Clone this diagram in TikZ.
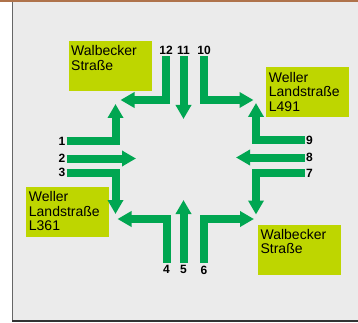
\documentclass[tikz,border=0pt]{standalone}
\usepackage{fontspec}
\setmainfont{Liberation Sans}
\usetikzlibrary{arrows.meta}
\usetikzlibrary{positioning}

\definecolor{lanegreen}{RGB}{0,166,81}
\definecolor{signlime}{RGB}{190,214,0}
\definecolor{panelgray}{RGB}{235,235,235}
\definecolor{panelrim}{RGB}{175,115,75}

\begin{document}
\begin{tikzpicture}[x=1pt,y=-1pt,
    lane/.style={draw=lanegreen,line width=8pt,line join=miter,-{Triangle[width=15pt,length=14pt]}},
    vh/.style={to path={|- (\tikztotarget)}},
    hv/.style={to path={-| (\tikztotarget)}},
    num/.style={font=\fontsize{12}{12}\selectfont\bfseries,inner sep=0pt},
    sign/.style={fill=signlime,minimum width=83pt,minimum height=50pt,inner sep=0pt,anchor=north west},
    signtext/.style={font=\fontsize{14}{14.6}\selectfont,align=left,inner xsep=2.7pt,inner ysep=4.5pt,anchor=north west}]

  \useasboundingbox (0,0) rectangle (358,323);
  \fill [panelgray] (12,1) rectangle (358,321);
  \draw [black!60,line width=1.5pt] (12.5,1) -- (12.5,321.5);
  \draw [black!80,line width=1.5pt] (12,321) -- (358,321);
  \draw [panelrim,line width=2pt] (0,1) -- (358,1);

  \node [sign] (sign_nw) at (68.3,40.7) {};
  \node [signtext] (text_nw) at (sign_nw.north west) {Walbecker\\Straße};
  \node [sign] (sign_ne) at (266,67.3) {};
  \node [signtext] (text_ne) at (sign_ne.north west) {Weller\\Landstraße\\L491};
  \node [sign] (sign_sw) at (26,186.7) {};
  \node [signtext] (text_sw) at (sign_sw.north west) {Weller\\Landstraße\\L361};
  \node [sign] (sign_se) at (257.7,224.5) {};
  \node [signtext] (text_se) at (sign_se.north west) {Walbecker\\Straße};

  \coordinate (in_1)  at (66.5,141);    \coordinate (out_1)  at (115.5,104);
  \coordinate (in_2)  at (66.5,158.5);  \coordinate (out_2)  at (136,158.5);
  \coordinate (in_3)  at (66.5,172.5);  \coordinate (out_3)  at (115.5,214);
  \coordinate (in_4)  at (166.5,262.5); \coordinate (out_4)  at (117.5,219);
  \coordinate (in_5)  at (183.5,262.5); \coordinate (out_5)  at (183.5,200);
  \coordinate (in_6)  at (204,262.5);   \coordinate (out_6)  at (254,219);
  \coordinate (in_7)  at (305,173);     \coordinate (out_7)  at (256,214.5);
  \coordinate (in_8)  at (305,157.5);   \coordinate (out_8)  at (236,157.5);
  \coordinate (in_9)  at (305,140);     \coordinate (out_9)  at (256,103);
  \coordinate (in_10) at (204,56.5);    \coordinate (out_10) at (253.5,100);
  \coordinate (in_11) at (183.5,56.5);  \coordinate (out_11) at (183.5,119);
  \coordinate (in_12) at (166,56.5);    \coordinate (out_12) at (120.5,100);

  \path
    (in_1)  edge [lane,hv] (out_1)
    (in_2)  edge [lane]    (out_2)
    (in_3)  edge [lane,hv] (out_3)
    (in_4)  edge [lane,vh] (out_4)
    (in_5)  edge [lane]    (out_5)
    (in_6)  edge [lane,vh] (out_6)
    (in_7)  edge [lane,hv] (out_7)
    (in_8)  edge [lane]    (out_8)
    (in_9)  edge [lane,hv] (out_9)
    (in_10) edge [lane,vh] (out_10)
    (in_11) edge [lane]    (out_11)
    (in_12) edge [lane,vh] (out_12);

  \node [num,left=1pt of in_1]   (lab_1)  {1};
  \node [num,left=1pt of in_2]   (lab_2)  {2};
  \node [num,left=1pt of in_3]   (lab_3)  {3};
  \node [num,below=3pt of in_4]  (lab_4)  {4};
  \node [num,below=3pt of in_5]  (lab_5)  {5};
  \node [num,below=3pt of in_6]  (lab_6)  {6};
  \node [num,right=1pt of in_7]  (lab_7)  {7};
  \node [num,right=1pt of in_8]  (lab_8)  {8};
  \node [num,right=1pt of in_9]  (lab_9)  {9};
  \node [num,above=2pt of in_10] (lab_10) {10};
  \node [num,above=2pt of in_11] (lab_11) {11};
  \node [num,above=2pt of in_12] (lab_12) {12};

\end{tikzpicture}
\end{document}
